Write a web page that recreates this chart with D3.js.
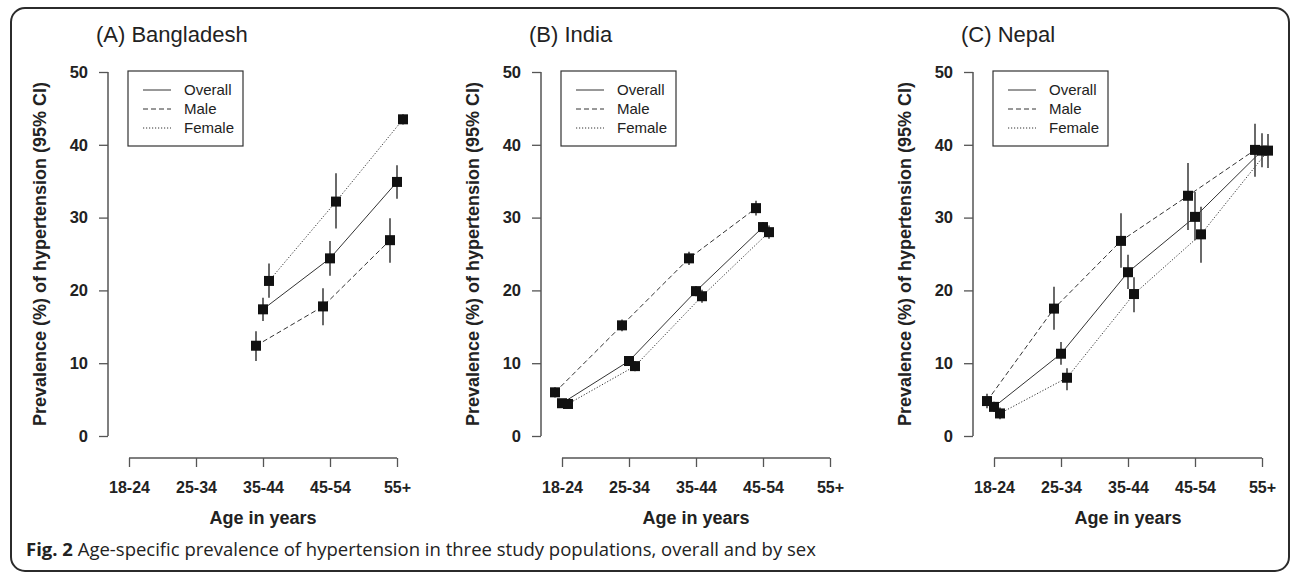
<!DOCTYPE html>
<html>
<head>
<meta charset="utf-8">
<script src="https://cdn.jsdelivr.net/npm/d3@7"></script>
<style>
  html, body { margin: 0; padding: 0; background: #fff; }
  svg { display: block; }
</style>
</head>
<body>
<svg id="chart" width="1292" height="574"></svg>
<script>
// ---------- DATA ----------
const categories = ["18-24", "25-34", "35-44", "45-54", "55+"];
const panelTitles = ["(A) Bangladesh", "(B) India", "(C) Nepal"];
const seriesNames = ["Overall", "Male", "Female"];
const yTicks = [0, 10, 20, 30, 40, 50];

// Bangladesh
const bdOverall   = [null, null, 17.4, 24.4, 34.9];
const bdOverallLo = [null, null, 15.8, 22.0, 32.6];
const bdOverallHi = [null, null, 19.0, 26.8, 37.2];
const bdMale      = [null, null, 12.4, 17.8, 26.9];
const bdMaleLo    = [null, null, 10.3, 15.2, 23.8];
const bdMaleHi    = [null, null, 14.4, 20.3, 29.9];
const bdFemale    = [null, null, 21.3, 32.2, 43.5];
const bdFemaleLo  = [null, null, 19.0, 28.5, 42.8];
const bdFemaleHi  = [null, null, 23.7, 36.1, 44.2];

// India
const inOverall   = [4.5, 10.3, 19.9, 28.7, null];
const inOverallLo = [4.0, 9.7, 19.2, 28.0, null];
const inOverallHi = [5.0, 10.9, 20.6, 29.4, null];
const inMale      = [6.0, 15.2, 24.4, 31.3, null];
const inMaleLo    = [5.3, 14.4, 23.5, 30.3, null];
const inMaleHi    = [6.7, 16.0, 25.3, 32.3, null];
const inFemale    = [4.4, 9.6, 19.2, 28.0, null];
const inFemaleLo  = [3.8, 8.9, 18.3, 27.1, null];
const inFemaleHi  = [5.0, 10.3, 20.1, 28.9, null];

// Nepal
const npOverall   = [4.0, 11.3, 22.5, 30.1, 39.2];
const npOverallLo = [3.3, 9.8, 20.2, 26.9, 36.9];
const npOverallHi = [4.7, 12.9, 24.9, 33.5, 41.6];
const npMale      = [4.8, 17.5, 26.8, 33.0, 39.3];
const npMaleLo    = [3.8, 14.6, 23.1, 28.3, 35.6];
const npMaleHi    = [5.8, 20.5, 30.6, 37.5, 42.9];
const npFemale    = [3.1, 8.0, 19.5, 27.7, 39.2];
const npFemaleLo  = [2.3, 6.3, 17.0, 23.8, 36.8];
const npFemaleHi  = [3.9, 9.3, 21.8, 31.5, 41.5];

const caption = { bold: "Fig. 2", rest: " Age-specific prevalence of hypertension in three study populations, overall and by sex" };

// ---------- BUILD ----------
const panelData = [
  { title: panelTitles[0], series: [
    { name: "Overall", v: bdOverall, lo: bdOverallLo, hi: bdOverallHi },
    { name: "Male", v: bdMale, lo: bdMaleLo, hi: bdMaleHi },
    { name: "Female", v: bdFemale, lo: bdFemaleLo, hi: bdFemaleHi } ] },
  { title: panelTitles[1], series: [
    { name: "Overall", v: inOverall, lo: inOverallLo, hi: inOverallHi },
    { name: "Male", v: inMale, lo: inMaleLo, hi: inMaleHi },
    { name: "Female", v: inFemale, lo: inFemaleLo, hi: inFemaleHi } ] },
  { title: panelTitles[2], series: [
    { name: "Overall", v: npOverall, lo: npOverallLo, hi: npOverallHi },
    { name: "Male", v: npMale, lo: npMaleLo, hi: npMaleHi },
    { name: "Female", v: npFemale, lo: npFemaleLo, hi: npFemaleHi } ] }
];

const styles = {
  Overall: { dash: null, dx: 0 },
  Male:    { dash: "5,3", dx: -7 },
  Female:  { dash: "1.2,1.8", dx: 6 }
};

const svg = d3.select("#chart");
const FONT = "'Liberation Sans', Arial, Helvetica, sans-serif";

// outer rounded frame
svg.append("rect")
  .attr("x", 11).attr("y", 8).attr("width", 1278).attr("height", 563)
  .attr("rx", 14).attr("ry", 14)
  .attr("fill", "none").attr("stroke", "#2b2b2b").attr("stroke-width", 2);

const offsets = [0, 433, 865];
const axisX = 108;
const y = d3.scaleLinear().domain([0, 50]).range([436, 72]);
const x = d3.scalePoint().domain(categories).range([129, 397]);
const axisColor = "#555";

panelData.forEach((p, i) => {
  const g = svg.append("g").attr("transform", `translate(${offsets[i]},0)`);

  // title
  g.append("text").attr("x", 96).attr("y", 42)
    .attr("font-family", FONT).attr("font-size", 22).attr("fill", "#222")
    .text(p.title);

  // y axis
  const ya = g.append("g").attr("transform", `translate(${axisX},0)`)
    .call(d3.axisLeft(y).tickValues(yTicks).tickSize(9).tickPadding(11).tickFormat(d3.format("d")));
  ya.select(".domain").attr("stroke", axisColor).attr("stroke-width", 1.5)
    .attr("d", `M0,${y(0)}V${y(50)}`);
  ya.selectAll(".tick line").attr("stroke", axisColor).attr("stroke-width", 1.3);
  ya.selectAll(".tick text").attr("font-family", FONT).attr("font-size", 16.5)
    .attr("font-weight", "bold").attr("fill", "#222");

  // x axis
  const xa = g.append("g").attr("transform", "translate(0,458)")
    .call(d3.axisBottom(x).tickSize(9).tickPadding(15));
  xa.select(".domain").attr("stroke", axisColor).attr("stroke-width", 1.5)
    .attr("d", `M${x(categories[0])},0H${x(categories[categories.length - 1])}`);
  xa.selectAll(".tick line").attr("stroke", axisColor).attr("stroke-width", 1.3);
  xa.selectAll(".tick text").attr("font-family", FONT).attr("font-size", 16)
    .attr("font-weight", "bold").attr("fill", "#222");

  // axis titles
  g.append("text").attr("x", (x(categories[0]) + x(categories[4])) / 2).attr("y", 524)
    .attr("text-anchor", "middle").attr("font-family", FONT).attr("font-size", 18)
    .attr("font-weight", "bold").attr("fill", "#222").text("Age in years");
  g.append("text").attr("transform", `translate(46,254) rotate(-90)`)
    .attr("text-anchor", "middle").attr("font-family", FONT).attr("font-size", 18)
    .attr("font-weight", "bold").attr("fill", "#222")
    .text("Prevalence (%) of hypertension (95% CI)");

  // legend
  const lg = g.append("g");
  lg.append("rect").attr("x", 128).attr("y", 71).attr("width", 115).attr("height", 75)
    .attr("fill", "#fff").attr("stroke", "#333").attr("stroke-width", 1.2);
  seriesNames.forEach((nm, k) => {
    const ly = 90 + k * 19;
    lg.append("line").attr("x1", 143).attr("x2", 171).attr("y1", ly).attr("y2", ly)
      .attr("stroke", "#333").attr("stroke-width", 1)
      .attr("stroke-dasharray", styles[nm].dash);
    lg.append("text").attr("x", 184).attr("y", ly + 5)
      .attr("font-family", FONT).attr("font-size", 15).attr("fill", "#222").text(nm);
  });

  // series lines
  const line = d3.line()
    .defined(d => d.v != null)
    .x(d => x(d.c) + d.dx)
    .y(d => y(d.v));
  p.series.forEach(s => {
    const pts = categories.map((c, j) => ({ c, v: s.v[j], lo: s.lo[j], hi: s.hi[j], dx: styles[s.name].dx }));
    g.append("path").datum(pts).attr("d", line)
      .attr("fill", "none").attr("stroke", "#333").attr("stroke-width", 1)
      .attr("stroke-dasharray", styles[s.name].dash);
  });
  // error bars
  p.series.forEach(s => {
    const pts = categories.map((c, j) => ({ c, v: s.v[j], lo: s.lo[j], hi: s.hi[j], dx: styles[s.name].dx }))
      .filter(d => d.v != null);
    g.selectAll(null).data(pts).enter().append("line")
      .attr("x1", d => x(d.c) + d.dx).attr("x2", d => x(d.c) + d.dx)
      .attr("y1", d => y(d.lo)).attr("y2", d => y(d.hi))
      .attr("stroke", "#444").attr("stroke-width", 1.6);
  });
  // squares
  p.series.forEach(s => {
    const pts = categories.map((c, j) => ({ c, v: s.v[j], dx: styles[s.name].dx }))
      .filter(d => d.v != null);
    g.selectAll(null).data(pts).enter().append("rect")
      .attr("x", d => x(d.c) + d.dx - 5).attr("y", d => y(d.v) - 5)
      .attr("width", 10).attr("height", 10).attr("fill", "#111");
  });
});

// caption
const cap = svg.append("text").attr("x", 26).attr("y", 556)
  .attr("font-family", "'Open Sans', sans-serif").attr("font-size", 18.5).attr("fill", "#222");
cap.append("tspan").attr("font-weight", "bold").text(caption.bold);
cap.append("tspan").text(caption.rest);
</script>
</body>
</html>
